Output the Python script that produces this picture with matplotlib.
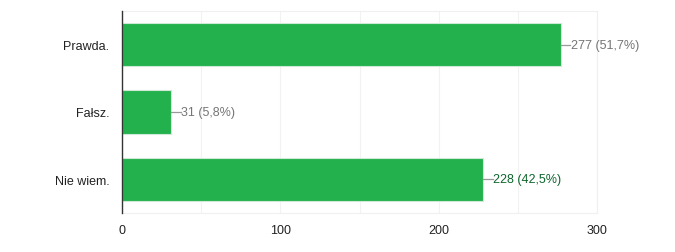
import matplotlib
matplotlib.use("Agg")
import matplotlib.pyplot as plt

categories = ["Prawda.", "Fałsz.", "Nie wiem."]
counts = [277, 31, 228]
percents = ["51,7%", "5,8%", "42,5%"]
label_colors = ["#757575", "#757575", "#0d652d"]
xticks = [0, 100, 200, 300]

plt.rcParams['font.family'] = ['Liberation Sans', 'DejaVu Sans']

fig = plt.figure(figsize=(6.75, 2.53), dpi=100)
ax = fig.add_axes([122/675, 39/253, 475/675, 202/253])

ypos = list(range(len(categories)))
ax.barh(ypos, counts, height=0.64, color="#23b14d", edgecolor="#d0e8d6", linewidth=0.8, zorder=3)

ax.set_xlim(0, 300)
ax.set_ylim(len(categories) - 0.5, -0.5)
ax.set_yticks(ypos)
ax.set_yticklabels(categories)
ax.set_xticks(xticks)
ax.set_xticklabels([str(t) for t in xticks])
ax.set_xticks([50, 150, 250], minor=True)
ax.tick_params(axis='both', which='both', length=0, labelsize=9, colors="#222222")
ax.tick_params(axis='x', pad=8)
ax.tick_params(axis='y', pad=9)
ax.grid(axis='x', which='both', color="#f2f2f2", linewidth=0.8, zorder=0)

for s in ["top", "right", "bottom"]:
    ax.spines[s].set_color("#f0f0f0")
ax.spines["left"].set_color("#333333")
ax.spines["left"].set_linewidth(1.0)
ax.spines["left"].set_zorder(4)

for y, c, p, col in zip(ypos, counts, percents, label_colors):
    ax.plot([c, c + 6], [y, y], color="#999999", linewidth=0.9, zorder=4, clip_on=False)
    ax.text(c + 6.3, y, f"{c} ({p})", va="center", ha="left", fontsize=9, color=col)

fig.savefig("out.png", dpi=100)
